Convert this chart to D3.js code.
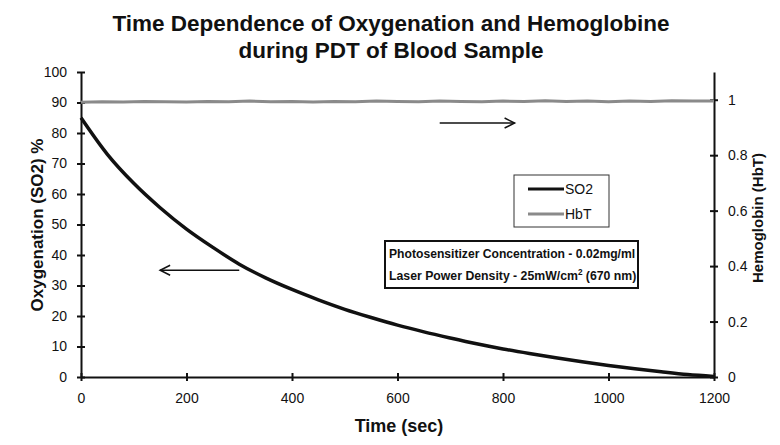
<!DOCTYPE html>
<html>
  <head>
    <meta charset="utf-8">
    <script src="https://d3js.org/d3.v7.min.js"></script>
    <title>Oxygenation and Hemoglobin during PDT</title>
    <style>
      body { margin: 0; background: #fff; }
      text { font-family: "Liberation Sans", Arial, sans-serif; fill: #111; }
    </style>
  </head>
  <body>
    <svg width="780" height="445"></svg>
    <script>
      // Data
      const timeTicks = [0, 200, 400, 600, 800, 1000, 1200];
      const so2Ticks = [0, 10, 20, 30, 40, 50, 60, 70, 80, 90, 100];
      const hbtTicks = [0, 0.2, 0.4, 0.6, 0.8, 1];

      // SO2 (%) sampled every 50 s
      const so2Time = [0, 50, 100, 150, 200, 250, 300, 350, 400, 450, 500, 550, 600,
                       650, 700, 750, 800, 850, 900, 950, 1000, 1050, 1100, 1150, 1200];
      const so2Values = [85, 73, 63.5, 55.5, 48.5, 42.5, 37, 32.5, 28.7, 25.3, 22.2, 19.5, 17,
                         14.8, 12.8, 10.9, 9.2, 7.7, 6.3, 5, 3.8, 2.7, 1.7, 0.8, 0.2];

      // HbT (relative) sampled every 40 s
      const hbtTime = d3.range(0, 1201, 40);
      const hbtValues = [0.991, 0.993, 0.992, 0.994, 0.993, 0.992, 0.994, 0.993, 0.995, 0.993,
                         0.994, 0.992, 0.994, 0.993, 0.995, 0.994, 0.993, 0.995, 0.994, 0.993,
                         0.995, 0.994, 0.996, 0.994, 0.995, 0.993, 0.995, 0.994, 0.996, 0.995, 0.995];

      const svg = d3.select('svg');

      // scales
      const x = d3.scaleLinear().domain([0, 1200]).range([81, 714]);
      const yL = d3.scaleLinear().domain([0, 100]).range([377, 72]);
      const yR = d3.scaleLinear().domain([0, 1.1]).range([377, 72]);

      // title
      const title = svg.append('text')
        .attr('text-anchor', 'middle')
        .style('font-weight', 'bold').style('font-size', '22.5px');
      title.append('tspan').attr('x', 391).attr('y', 31).text('Time Dependence of Oxygenation and Hemoglobine');
      title.append('tspan').attr('x', 391).attr('y', 58).text('during PDT of Blood Sample');

      // helper to make ticks cross the axis line
      const crossTicks = (g, horizontal) => {
        g.attr('font-family', null).attr('font-size', null);
        g.select('.domain').attr('stroke', '#111').attr('stroke-width', 2);
        g.selectAll('.tick line').attr('stroke', '#111').attr('stroke-width', 2)
          .attr(horizontal ? 'y1' : 'x1', -4).attr(horizontal ? 'y2' : 'x2', 4);
        g.selectAll('.tick text').style('font-size', '14px').attr('fill', '#111');
      };

      // x axis
      svg.append('g')
        .attr('transform', `translate(0,${yL(0)})`)
        .call(d3.axisBottom(x).tickValues(timeTicks).tickSizeOuter(0).tickPadding(10)
          .tickFormat(d3.format('d')))
        .call(g => crossTicks(g, true));

      // left axis
      svg.append('g')
        .attr('transform', `translate(${x(0)},0)`)
        .call(d3.axisLeft(yL).tickValues(so2Ticks).tickSizeOuter(0).tickPadding(8))
        .call(g => crossTicks(g, false));

      // right axis
      svg.append('g')
        .attr('transform', `translate(${x(1200)},0)`)
        .call(d3.axisRight(yR).tickValues(hbtTicks).tickSizeOuter(0).tickPadding(8)
          .tickFormat(d3.format('~g')))
        .call(g => crossTicks(g, false));

      // axis titles
      svg.append('text')
        .attr('transform', 'translate(43,225) rotate(-90)')
        .attr('text-anchor', 'middle')
        .style('font-weight', 'bold').style('font-size', '17px')
        .text('Oxygenation (SO2) %');
      svg.append('text')
        .attr('transform', 'translate(763,218) rotate(-90)')
        .attr('text-anchor', 'middle')
        .style('font-weight', 'bold').style('font-size', '15px')
        .text('Hemoglobin (HbT)');
      svg.append('text')
        .attr('x', 399).attr('y', 432)
        .attr('text-anchor', 'middle')
        .style('font-weight', 'bold').style('font-size', '18px')
        .text('Time (sec)');

      // lines
      const hbtLine = d3.line().x((d, i) => x(hbtTime[i])).y(d => yR(d));
      svg.append('path')
        .attr('d', hbtLine(hbtValues))
        .attr('fill', 'none').attr('stroke', '#8a8a8a').attr('stroke-width', 3);

      const so2Line = d3.line().curve(d3.curveMonotoneX)
        .x((d, i) => x(so2Time[i])).y(d => yL(d));
      svg.append('path')
        .attr('d', so2Line(so2Values))
        .attr('fill', 'none').attr('stroke', '#111').attr('stroke-width', 3.5);

      // arrows pointing at the axis for each curve
      const arrow = (x1, x2, y) => {
        const dir = x2 < x1 ? 1 : -1;
        svg.append('line').attr('x1', x1).attr('x2', x2).attr('y1', y).attr('y2', y)
          .attr('stroke', '#111').attr('stroke-width', 1.5);
        svg.append('path')
          .attr('d', `M${x2 + dir * 10},${y - 5}L${x2},${y}L${x2 + dir * 10},${y + 5}`)
          .attr('fill', 'none').attr('stroke', '#111').attr('stroke-width', 1.5);
      };
      arrow(x(300), x(150), yL(35));
      arrow(x(680), x(822), yR(0.916));

      // legend
      const legend = svg.append('g');
      legend.append('rect')
        .attr('x', 514).attr('y', 175).attr('width', 95).attr('height', 52)
        .attr('fill', '#fff').attr('stroke', '#333').attr('stroke-width', 1);
      const legendItems = [['SO2', '#111'], ['HbT', '#8a8a8a']];
      legendItems.forEach(([name, color], i) => {
        const ly = 189 + i * 25;
        legend.append('line').attr('x1', 528).attr('x2', 564).attr('y1', ly).attr('y2', ly)
          .attr('stroke', color).attr('stroke-width', 3);
        legend.append('text').attr('x', 565).attr('y', ly + 5)
          .style('font-size', '14px').text(name);
      });

      // conditions box (text squeezed horizontally like the narrow original font)
      const info = svg.append('g');
      info.append('rect')
        .attr('x', 385).attr('y', 241).attr('width', 253).attr('height', 47)
        .attr('fill', '#fff').attr('stroke', '#111').attr('stroke-width', 2);
      info.append('g').attr('transform', 'translate(389,258) scale(0.9,1)')
        .append('text')
        .style('font-weight', 'bold').style('font-size', '13.5px')
        .text('Photosensitizer Concentration - 0.02mg/ml');
      const line2 = info.append('g').attr('transform', 'translate(389,280) scale(0.91,1)')
        .append('text')
        .style('font-weight', 'bold').style('font-size', '13.5px');
      line2.append('tspan').text('Laser Power Density - 25mW/cm');
      line2.append('tspan').attr('dy', -5).style('font-size', '9px').text('2');
      line2.append('tspan').attr('dy', 5).text(' (670 nm)');
    </script>
  </body>
</html>
